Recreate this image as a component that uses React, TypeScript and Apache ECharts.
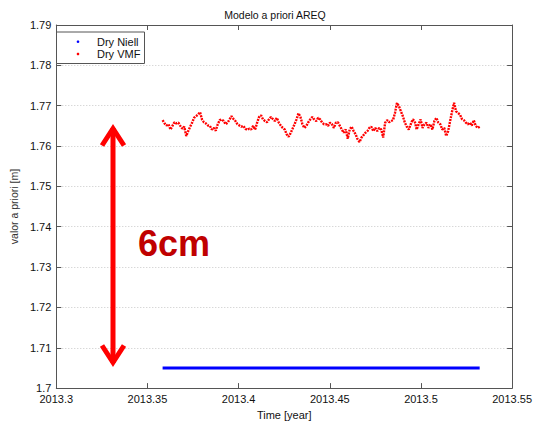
import React, { useEffect, useRef } from 'react';
import * as echarts from 'echarts';

const TITLE = 'Modelo a priori AREQ';
const X_LABEL = 'Time [year]';
const Y_LABEL = 'valor a priori [m]';
const SERIES_NAMES = ['Dry Niell', 'Dry VMF'];
const SERIES_COLORS = ['#0000ff', '#ff0000'];
const ANNOTATION = '6cm';

const X_MIN = 2013.3;
const X_MAX = 2013.55;
const X_STEP = 0.05;
const Y_MIN = 1.7;
const Y_MAX = 1.79;
const Y_STEP = 0.01;

// time span of both series (decimal years)
const T_START = 2013.3583;
const T_END = 2013.5322;

// Dry Niell: constant a-priori value
const NIELL_TIMES = [T_START, T_END];
const NIELL_VALUES = [1.705, 1.705];

const VMF_VALUES = [
  1.7664, 1.7656, 1.7651, 1.7654, 1.7641, 1.765, 1.7659, 1.7656, 1.7658, 1.765,
  1.7643, 1.7648, 1.7625, 1.7637, 1.7648, 1.7658, 1.767, 1.7674, 1.7678, 1.7684,
  1.7666, 1.7659, 1.7656, 1.7651, 1.765, 1.7641, 1.7645, 1.7638, 1.7654, 1.7664,
  1.7666, 1.7662, 1.7654, 1.7658, 1.7666, 1.7674, 1.7667, 1.7662,
  1.7654, 1.7651, 1.7648, 1.765, 1.7643, 1.764, 1.7643, 1.7641, 1.765, 1.7641,
  1.7658, 1.7672, 1.7676, 1.7666, 1.7662, 1.7659, 1.7666, 1.7672, 1.7667, 1.7662,
  1.767, 1.7658, 1.7651, 1.7645, 1.7641, 1.7629, 1.7623, 1.7632, 1.7643, 1.7654,
  1.7666, 1.7681, 1.7672, 1.7654, 1.7645, 1.765, 1.7659, 1.7666, 1.7672, 1.7666,
  1.7662, 1.767, 1.7666, 1.7658, 1.7654,
  1.7654, 1.765, 1.7658, 1.7654, 1.7645, 1.7658, 1.7659, 1.765, 1.7641, 1.7633,
  1.7641, 1.7618, 1.7641, 1.7648, 1.7637, 1.7629, 1.7617, 1.761, 1.7621, 1.7627,
  1.7633, 1.7637, 1.7645, 1.7648, 1.7637, 1.7645, 1.7637, 1.7645, 1.7641, 1.7621,
  1.7658, 1.7664, 1.7659, 1.7662, 1.7664, 1.7682, 1.7707, 1.7699, 1.7686, 1.7674,
  1.7658, 1.7648,
  1.7641, 1.7654, 1.7666, 1.7662, 1.7641, 1.7654, 1.7666, 1.7645, 1.7654, 1.7658,
  1.7645, 1.7654, 1.7641, 1.7662, 1.767, 1.7658, 1.7654, 1.7641, 1.7645, 1.7625,
  1.7637, 1.7662, 1.7686, 1.7707, 1.7686, 1.7682, 1.7678, 1.7667, 1.7664, 1.7658,
  1.7654, 1.7658, 1.7651, 1.7664, 1.765, 1.7645, 1.7648,
];

const FONT = '"Liberation Sans", Arial, Helvetica, sans-serif';

const fmt = (v: number) => String(Number(v.toFixed(2)));

export default function App() {
  const ref = useRef<HTMLDivElement>(null);

  useEffect(() => {
    if (!ref.current) return;
    const chart = echarts.init(ref.current, undefined, { renderer: 'svg' });

    const n = VMF_VALUES.length;
    const vmfData = VMF_VALUES.map((v, i) => [T_START + (i * (T_END - T_START)) / (n - 1), v]);
    const niellData = NIELL_TIMES.map((t, i) => [t, NIELL_VALUES[i]]);

    const axisColor = '#555';
    const baseX = {
      type: 'value',
      min: X_MIN,
      max: X_MAX,
      interval: X_STEP,
      axisLine: { show: true, onZero: false, lineStyle: { color: axisColor, width: 1 } },
      axisTick: { show: true, inside: true, length: 5, lineStyle: { color: axisColor } },
      splitLine: { show: false },
    };
    const baseY = {
      type: 'value',
      min: Y_MIN,
      max: Y_MAX,
      interval: Y_STEP,
      axisLine: { show: true, onZero: false, lineStyle: { color: axisColor, width: 1 } },
      axisTick: { show: true, inside: true, length: 5, lineStyle: { color: axisColor } },
    };

    // legend drawn as a small boxed key (top-left inside the plot)
    const legendBox = { x: 56, y: 31.5, w: 88, h: 31.5 };
    const legendRows = [41.7, 54];
    const legendGraphics: any[] = [
      {
        type: 'rect',
        shape: { x: legendBox.x + 0.5, y: legendBox.y + 0.5, width: legendBox.w, height: legendBox.h },
        style: { fill: '#ffffff', stroke: '#555', lineWidth: 1 },
        z: 20,
      },
    ];
    SERIES_NAMES.forEach((name, i) => {
      legendGraphics.push({
        type: 'circle',
        shape: { cx: 78, cy: legendRows[i], r: 1.3 },
        style: { fill: SERIES_COLORS[i] },
        z: 21,
      });
      legendGraphics.push({
        type: 'text',
        x: 97,
        y: legendRows[i],
        style: { text: name, font: `11px ${FONT}`, fill: '#111', textAlign: 'left', textVerticalAlign: 'middle' },
        z: 21,
      });
    });

    chart.setOption({
      animation: false,
      backgroundColor: '#ffffff',
      textStyle: { fontFamily: FONT },
      grid: { left: 51, right: 21, top: 25, bottom: 33, containLabel: false },
      xAxis: [
        {
          ...baseX,
          position: 'bottom',
          name: X_LABEL,
          nameLocation: 'middle',
          nameGap: 16,
          nameTextStyle: { fontSize: 11, color: '#111', fontFamily: FONT },
          axisLabel: { show: true, margin: 5, fontSize: 11, color: '#111', fontFamily: FONT, formatter: fmt, showMinLabel: true, showMaxLabel: true },
        },
        {
          ...baseX,
          position: 'top',
          axisLabel: { show: false },
        },
      ],
      yAxis: [
        {
          ...baseY,
          position: 'left',
          name: Y_LABEL,
          nameLocation: 'middle',
          nameGap: 30,
          nameTextStyle: { fontSize: 10.5, color: '#333', fontFamily: FONT },
          axisLabel: { show: true, margin: 5, fontSize: 11, color: '#111', fontFamily: FONT, formatter: fmt, showMinLabel: true, showMaxLabel: true },
          splitLine: { show: true, lineStyle: { color: '#c8c8c8', type: [1, 2], width: 1 } },
        },
        {
          ...baseY,
          position: 'right',
          axisLabel: { show: false },
          splitLine: { show: false },
        },
      ],
      series: [
        {
          name: SERIES_NAMES[0],
          type: 'line',
          data: niellData,
          showSymbol: false,
          itemStyle: { color: SERIES_COLORS[0] },
          lineStyle: { color: SERIES_COLORS[0], width: 3 },
          z: 3,
        },
        {
          name: SERIES_NAMES[1],
          type: 'line',
          data: vmfData,
          showSymbol: false,
          itemStyle: { color: SERIES_COLORS[1] },
          lineStyle: { color: SERIES_COLORS[1], width: 2.4, type: [2, 1] },
          z: 3,
        },
      ],
      graphic: [
        {
          type: 'text',
          x: 275,
          y: 15,
          style: { text: TITLE, font: `10.5px ${FONT}`, fill: '#111', textAlign: 'center', textVerticalAlign: 'middle' },
        },
        ...legendGraphics,
        {
          type: 'line',
          shape: { x1: 113, y1: 128, x2: 113, y2: 363 },
          style: { stroke: '#ff0000', lineWidth: 5 },
          z: 10,
        },
        {
          type: 'polyline',
          shape: { points: [[102, 145.5], [113, 128.5], [124, 145.5]] },
          style: { stroke: '#ff0000', lineWidth: 5, lineJoin: 'miter', fill: null },
          z: 10,
        },
        {
          type: 'polyline',
          shape: { points: [[102, 345.5], [113, 362.5], [124, 345.5]] },
          style: { stroke: '#ff0000', lineWidth: 5, lineJoin: 'miter', fill: null },
          z: 10,
        },
        {
          type: 'text',
          x: 138,
          y: 243,
          style: { text: ANNOTATION, font: `bold 36px ${FONT}`, fill: '#c00000', textAlign: 'left', textVerticalAlign: 'middle' },
          z: 10,
        },
      ],
    });

    return () => chart.dispose();
  }, []);

  return <div ref={ref} style={{ width: 535, height: 425, position: 'absolute', left: 0, top: 0 }} />;
}
